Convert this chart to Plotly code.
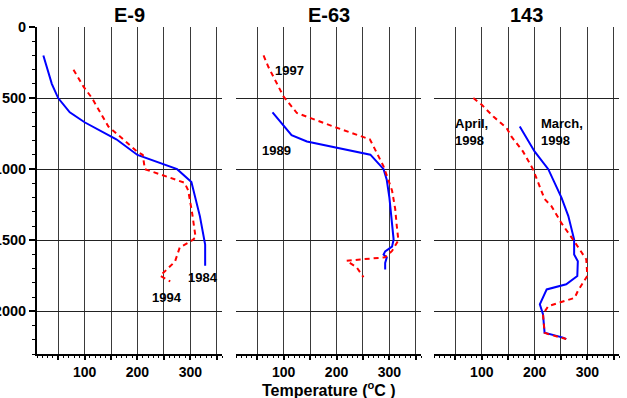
import plotly.graph_objects as go

# ---------------- data ----------------
panel_titles = ["E-9", "E-63", "143"]

# Panel E-9
e9_1984_temp = [22, 38, 50, 72, 100, 160, 200, 275, 302, 310, 318, 328, 328]
e9_1984_depth = [200, 400, 500, 600, 670, 790, 900, 1000, 1090, 1200, 1330, 1530, 1680]
e9_1994_temp = [79, 98, 114, 145, 173, 199, 210, 214, 289, 296, 303, 310, 300, 280, 271, 249, 243, 262]
e9_1994_depth = [300, 420, 500, 700, 790, 875, 900, 1000, 1095, 1150, 1300, 1480, 1510, 1550, 1650, 1730, 1750, 1790]

# Panel E-63
e63_1989_temp = [79, 115, 144, 264, 289, 295, 300, 305, 308, 305, 292, 289, 295, 292, 292]
e63_1989_depth = [600, 760, 805, 898, 1000, 1075, 1200, 1380, 1495, 1545, 1578, 1600, 1622, 1660, 1705]
e63_1997_temp = [62, 71, 100, 125, 194, 263, 270, 289, 305, 311, 314, 317, 305, 292, 245, 219, 238, 251]
e63_1997_depth = [200, 280, 490, 605, 700, 790, 840, 980, 1150, 1280, 1400, 1500, 1575, 1620, 1635, 1645, 1690, 1760]

# Panel 143
w143_mar_temp = [172, 200, 226, 251, 264, 275, 275, 282, 281, 260, 223, 210, 216, 219, 254, 260]
w143_mar_depth = [700, 875, 1000, 1200, 1330, 1495, 1600, 1647, 1752, 1810, 1846, 1950, 2020, 2150, 2185, 2196]
w143_apr_temp = [84, 100, 122, 147, 156, 178, 197, 219, 232, 251, 273, 298, 300, 282, 276, 226, 216, 219, 226, 254, 260]
w143_apr_depth = [500, 547, 630, 710, 770, 875, 1000, 1210, 1260, 1380, 1495, 1635, 1750, 1857, 1905, 1963, 2020, 2150, 2160, 2185, 2195]

x_tickvals = [50, 100, 150, 200, 250, 300, 350]
x_ticktext = ["", "100", "", "200", "", "300", ""]
y_tickvals = [0, 500, 1000, 1500, 2000]
y_ticktext = ["0", "500", "1000", "1500", "2000"]

# curve labels: (panel, text, temp, depth, xanchor)
curve_labels = [
    (1, "1984", 323, 1763, "center"),
    (1, "1994", 255, 1904, "center"),
    (2, "1997", 112, 307, "center"),
    (2, "1989", 86, 868, "center"),
    (3, "April,<br>1998", 46, 740, "left"),
    (3, "March,<br>1998", 208, 740, "left"),
]

# ---------------- figure ----------------
FONT = "Liberation Sans, Arial, sans-serif"
BLUE = "#0000FF"
RED = "#FF0000"

fig = go.Figure()

series = [
    (1, e9_1984_temp, e9_1984_depth, BLUE, "solid"),
    (1, e9_1994_temp, e9_1994_depth, RED, "5px,4px"),
    (2, e63_1989_temp, e63_1989_depth, BLUE, "solid"),
    (2, e63_1997_temp, e63_1997_depth, RED, "5px,4px"),
    (3, w143_mar_temp, w143_mar_depth, BLUE, "solid"),
    (3, w143_apr_temp, w143_apr_depth, RED, "5px,4px"),
]
for p, xs, ys, col, dash in series:
    sfx = "" if p == 1 else str(p)
    fig.add_trace(go.Scatter(x=xs, y=ys, mode="lines",
                             line=dict(color=col, width=2, dash=dash),
                             xaxis="x" + sfx, yaxis="y" + sfx,
                             showlegend=False, hoverinfo="skip"))

domains = [[0.0, 0.318], [0.342, 0.660], [0.6826, 1.0]]
layout = dict(
    width=627, height=398,
    margin=dict(l=37, r=8, t=27, b=44, autoexpand=False),
    paper_bgcolor="white", plot_bgcolor="white",
    showlegend=False,
    font=dict(family=FONT, color="black"),
)
for i in range(3):
    sfx = "" if i == 0 else str(i + 1)
    layout["xaxis" + sfx] = dict(
        domain=domains[i], range=[10, 360], anchor="y" + sfx,
        tickmode="array", tickvals=x_tickvals, ticktext=x_ticktext,
        ticks="outside", ticklen=4, tickwidth=1.5, tickcolor="black",
        minor=dict(dtick=10, tick0=0, ticks="outside", ticklen=2,
                   tickwidth=1, tickcolor="black", showgrid=False),
        showgrid=True, gridcolor="#3a3a3a", gridwidth=1,
        showline=True, linecolor="black", linewidth=2,
        zeroline=False, automargin=False,
        tickfont=dict(family=FONT, size=14, color="black", weight="bold"),
    )
    ydict = dict(
        range=[2300, 0], anchor="x" + sfx,
        tickmode="array", tickvals=y_tickvals, ticktext=y_ticktext,
        showgrid=True, gridcolor="#222222", gridwidth=1,
        zeroline=False, automargin=False,
        tickfont=dict(family=FONT, size=14.5, color="black", weight="bold"),
    )
    if i == 0:
        ydict.update(showline=True, linecolor="black", linewidth=2,
                     ticks="outside", ticklen=6, tickwidth=1.5, tickcolor="black",
                     minor=dict(dtick=100, tick0=0, ticks="outside", ticklen=3,
                                tickwidth=1, tickcolor="black", showgrid=False),
                     showticklabels=True)
    else:
        ydict.update(showline=False, ticks="", showticklabels=False,
                     matches="y")
    layout["yaxis" + sfx] = ydict

annotations = []
for i, t in enumerate(panel_titles):
    annotations.append(dict(
        text=t, xref="paper", yref="paper",
        x=(domains[i][0] + domains[i][1]) / 2, y=1.0367,
        xanchor="center", yanchor="middle", showarrow=False,
        font=dict(family=FONT, size=20, color="black", weight="bold"),
    ))
annotations.append(dict(
    text="Temperature (<sup>o</sup>C )", xref="paper", yref="paper",
    x=(domains[1][0] + domains[1][1]) / 2, y=-0.108,
    xanchor="center", yanchor="middle", showarrow=False,
    font=dict(family=FONT, size=16, color="black", weight="bold"),
))
for p, txt, xv, yv, xa in curve_labels:
    sfx = "" if p == 1 else str(p)
    annotations.append(dict(
        text=txt, xref="x" + sfx, yref="y" + sfx, x=xv, y=yv,
        xanchor=xa, yanchor="middle", align="left", showarrow=False,
        font=dict(family=FONT, size=13, color="black", weight="bold"),
    ))
layout["annotations"] = annotations

fig.update_layout(**layout)
fig.write_html("out.html")
